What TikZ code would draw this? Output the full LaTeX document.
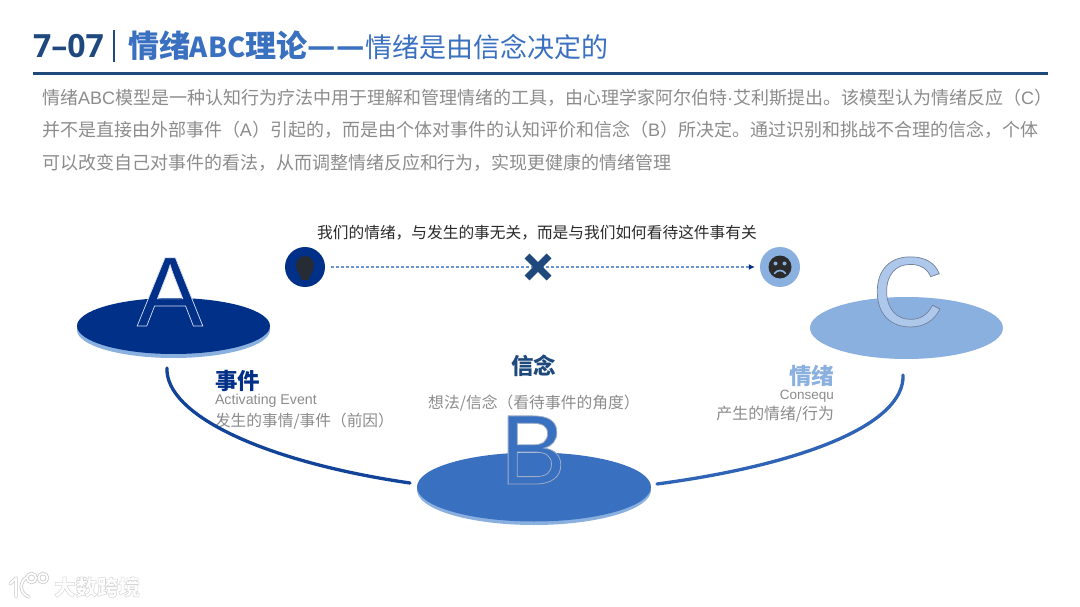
\documentclass[tikz,border=0pt]{standalone}
\usepackage{fontspec}
\usetikzlibrary{shapes.geometric,arrows.meta}
\setmainfont{Noto Sans CJK SC}
\newfontfamily\cjk{Noto Sans CJK SC}
\newfontfamily\latinf{Liberation Sans}
\newfontfamily\numf{Open Sans}
\newcommand{\fsz}[1]{\fontsize{#1}{#1}\selectfont}
% outlined real text: fill colour from TikZ, stroke colour given as PDF rgb
\newcommand{\outl}[3]{\special{pdf:code 2 Tr #2 w #1 RG}#3\special{pdf:code 0 Tr 0 w}}
\definecolor{navy}{HTML}{003087}
\definecolor{ruleblue}{HTML}{1F497D}
\definecolor{midblue}{HTML}{3A70C0}
\definecolor{lightblue}{HTML}{8AB0E0}
\definecolor{paleblue}{HTML}{AEC8EC}
\definecolor{greytext}{HTML}{8C8C8C}
\definecolor{inkdark}{HTML}{2B2B2B}
\tikzset{
  txt/.style={inner sep=0pt,outer sep=0pt,align=left},
  disc/.style={ellipse,draw=none,inner sep=0pt,minimum width=193pt,minimum height=56pt},
  bigletter/.style={inner sep=0pt,outer sep=0pt,font=\latinf\fsz{99}},
  dotnode/.style={circle,inner sep=0pt,minimum size=40pt},
  arc line/.style={line width=3.3pt,line cap=round},
  hd/.style={txt,font=\cjk\bfseries\fsz{22.5}},
  sub/.style={txt,text=greytext,font=\cjk\fsz{15.7}},
}
\begin{document}
\begin{tikzpicture}[x=1pt,y=-1pt]
\useasboundingbox (0,0) rectangle (1080,607);
\fill[white] (0,0) rectangle (1080,607);

% title
\node[txt,anchor=west,text=ruleblue,font=\numf\bfseries\fsz{32}] (num) at (33,46) {7–07};
\draw[ruleblue,line width=2.8pt] (114,30) -- (114,62);
\node[txt,anchor=west,text=midblue,font=\cjk\bfseries\fsz{31}] (ttl) at (128,46) {情绪{\fsz{27.5}ABC}理论—\kern-1pt\kern2pt—};
\node[txt,anchor=west,text=midblue,font=\cjk\fsz{27}] (ttlb) at (365,47) {情绪是由信念决定的};
\draw[ruleblue,line width=3pt] (33,74) -- (1048,74);

% intro
\node[txt,anchor=north west,text=greytext,font=\cjk\fontsize{18}{32.5}\selectfont] (intro) at (42,89)
 {情绪{\latinf ABC}模型是一种认知行为疗法中用于理解和管理情绪的工具，由心理学家阿尔伯特{\latinf ·}艾利斯提出。该模型认为情绪反应（{\latinf C}）\\
  并不是直接由外部事件（{\latinf A}）引起的，而是由个体对事件的认知评价和信念（{\latinf B}）所决定。通过识别和挑战不合理的信念，个体\\
  可以改变自己对事件的看法，从而调整情绪反应和行为，实现更健康的情绪管理};

% top message
\node[txt,text=inkdark,font=\cjk\fsz{15.7}] (msg) at (537,232.5) {我们的情绪，与发生的事无关，而是与我们如何看待这件事有关};
\node[dotnode,fill=navy] (bulb) at (305,267) {};
\node[dotnode,fill=lightblue] (sad) at (780,267) {};
\draw[midblue!75!white,line width=1.1pt,dash pattern=on 3pt off 2pt,shorten <=6pt,shorten >=5pt,
      -{Latex[length=6pt,width=6pt,color=navy]}] (bulb) -- (sad);
\coordinate (xc) at (538,267);
\draw[ruleblue,line width=7pt] ([shift={(-11,-11)}]xc) -- ([shift={(11,11)}]xc);
\draw[ruleblue,line width=7pt] ([shift={(-11,11)}]xc) -- ([shift={(11,-11)}]xc);
% bulb icon
\fill[inkdark!90!navy] (305,265) circle (9pt);
\fill[inkdark!90!navy] (297,270) -- (313,270) -- (309.5,277) -- (300.5,277) -- cycle;
\fill[inkdark!90!navy] (301,277) rectangle (309,279.5);
% sad face icon
\fill[inkdark] (780,267) circle (11.5pt);
\fill[lightblue] (775.5,263.5) circle (2pt) (784.5,263.5) circle (2pt);
\draw[lightblue,line width=1.6pt,line cap=round] (774.5,273.5) .. controls (777,269.5) and (783,269.5) .. (785.5,273.5);

% discs
\fill[lightblue] (173.5,330) ellipse (96.5pt and 28pt);
\node[disc,fill=navy] (da) at (173.5,326) {};
\fill[lightblue] (534,490) ellipse (117pt and 35pt);
\node[disc,fill=midblue,minimum width=234pt,minimum height=69pt] (db) at (534,487) {};
\node[disc,fill=lightblue,minimum height=62pt] (dc) at (906.5,328) {};

% big letters
\node[bigletter,text=navy,anchor=base] (la) at (170,326) {\outl{0.85 0.88 0.95}{0.7}{A}};
\node[bigletter,text=midblue,anchor=base] (lb) at (533,484) {\outl{0.62 0.68 0.78}{0.8}{B}};
\node[bigletter,text=paleblue,anchor=base] (lc) at (908,326) {\outl{0.45 0.5 0.6}{0.7}{C}};

% labels
\node[hd,anchor=west,text=navy] (ha) at (215,381) {事件};
\node[txt,anchor=west,text=greytext,font=\latinf\fsz{14.2}] (ea) at (215,401) {Activating Event};
\node[sub,anchor=west] (sa) at (215,421) {发生的事情/事件（前因）};
\node[hd,text=ruleblue] (hb) at (533.5,366) {信念};
\node[sub,font=\cjk\fsz{15.8}] (sb) at (534,403) {想法/信念（看待事件的角度）};
\node[hd,anchor=east,text=lightblue] (hc) at (834,376) {情绪};
\node[txt,anchor=east,text=greytext,font=\latinf\fsz{13.5}] (ec) at (834,396) {Consequ};
\node[sub,anchor=east,font=\cjk\fsz{15.9}] (sc) at (834,414) {产生的情绪/行为};

% arcs
\coordinate (a1) at (167,368);
\coordinate (a2) at (410,483);
\coordinate (c1) at (903,375);
\coordinate (c2) at (657,484);
\draw[arc line,navy!70!midblue] (a1) .. controls (165,415) and (265,462) .. (a2);
\draw[arc line,midblue!80!navy] (c1) .. controls (905,425) and (800,465) .. (c2);

% watermark
\node[txt,anchor=west,text=white,font=\cjk\bfseries\fsz{21.5}] (wm) at (54,587) {\outl{0.84 0.84 0.84}{0.5}{大数跨境}};
\foreach \w/\c in {3.4/black!20,1.8/white}{
  \draw[\c,line width=\w pt,line cap=round,line join=round]
    (10,584) -- (16,578) -- (16,597)
    (27,577) .. controls (19,582) and (19,593) .. (29,597)
    (31.5,578) circle (4.5pt) (43,578) circle (4.5pt);
}
\end{tikzpicture}
\end{document}
